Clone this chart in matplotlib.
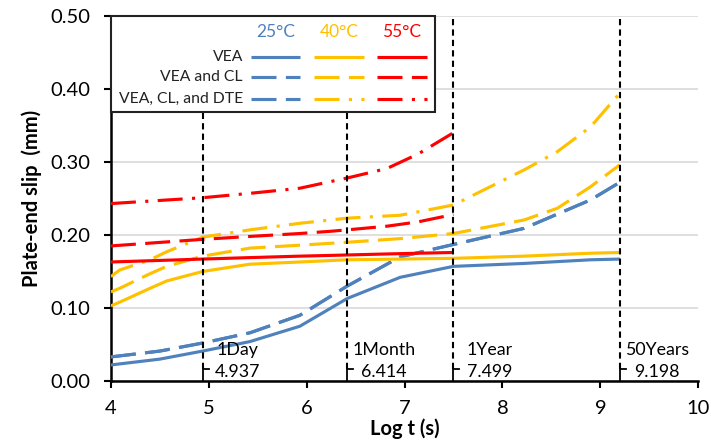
import numpy as np
import matplotlib.pyplot as plt
from matplotlib.patches import Rectangle

plt.rcParams['font.family'] = ['Lato', 'DejaVu Sans']

# log time (s) and slip (mm)
x25 = [4.0, 4.5, 4.937, 5.42, 5.93, 6.414, 6.955, 7.499, 8.22, 8.9, 9.198]
vea25 = [0.022, 0.030, 0.041, 0.054, 0.075, 0.113, 0.142, 0.157, 0.161, 0.166, 0.167]
cl25 = [0.033, 0.041, 0.052, 0.066, 0.090, 0.130, 0.170, 0.187, 0.209, 0.248, 0.272]
dte25 = [0.033, 0.041, 0.052, 0.066, 0.090, 0.130, 0.170, 0.187, 0.209, 0.248, 0.272]

x40 = [4.0, 4.09, 4.4, 4.57, 4.937, 5.42, 5.93, 6.414, 6.955, 7.499, 8.22, 8.56, 8.9, 9.198]
vea40 = [0.103, 0.108, 0.127, 0.137, 0.150, 0.160, 0.163, 0.166, 0.167, 0.168, 0.171, 0.173, 0.175, 0.176]
cl40 = [0.122, 0.127, 0.147, 0.157, 0.171, 0.182, 0.186, 0.190, 0.195, 0.202, 0.2205, 0.2365, 0.266, 0.296]
dte40 = [0.143, 0.152, 0.166, 0.177, 0.197, 0.207, 0.216, 0.223, 0.227, 0.241, 0.289, 0.314, 0.348, 0.394]

x55 = [4.0, 4.937, 5.42, 5.93, 6.24, 6.414, 6.82, 7.14, 7.499]
vea55 = [0.163, 0.167, 0.169, 0.171, 0.172, 0.1726, 0.174, 0.175, 0.176]
cl55 = [0.185, 0.194, 0.198, 0.202, 0.205, 0.207, 0.212, 0.218, 0.228]
dte55 = [0.243, 0.251, 0.257, 0.264, 0.273, 0.278, 0.291, 0.311, 0.340]

marks = [4.937, 6.414, 7.499, 9.198]
mark_names = ['1Day', '1Month', '1Year', '50Years']

temps = ['25°C', '40°C', '55°C']
colors = ['#4F81BD', '#FFC000', '#FF0000']
cases = ['VEA', 'VEA and CL', 'VEA, CL, and DTE']

solid = (0, ())
dash = (0, (8, 3))
dashdot = (0, (8, 3, 1, 3))
styles = {
    '25°C': [solid, dash, dash],
    '40°C': [solid, dash, dashdot],
    '55°C': [solid, dash, dashdot],
}
series = {
    '25°C': (x25, [vea25, cl25, dte25]),
    '40°C': (x40, [vea40, cl40, dte40]),
    '55°C': (x55, [vea55, cl55, dte55]),
}

fig = plt.figure(figsize=(7.11, 4.41), dpi=100)
ax = fig.add_axes([0.156, 0.136, 0.826, 0.828])
px = 6 / (0.826 * 711)  # data units per pixel along x

for t, c in zip(temps, colors):
    xs, ys = series[t]
    for y, ls in zip(ys[::-1], styles[t][::-1]):
        ax.plot(xs, y, color=c, lw=2.25, linestyle=ls, zorder=3)

# time markers with their labels
label_shift = [12, 5, 13, 5]
for m, name, sh in zip(marks, mark_names, label_shift):
    ax.plot([m, m], [0.016, 0.5], color='black', lw=1.5, linestyle=(0, (3, 2)), zorder=4)
    ax.plot([m, m, m + 6 * px], [0, 0.016, 0.016], color='black', lw=1.3, zorder=4)
    ax.text(m + sh * px, 0.002, f'{name}\n{m:.3f}', ha='left', va='bottom',
            fontsize=12.8, multialignment='center', linespacing=1.4, zorder=5)

ax.set_xlim(4, 10)
ax.set_ylim(0, 0.5)
ax.set_xticks(np.arange(4, 11, 1))
ax.set_yticks(np.arange(0, 0.51, 0.1))
ax.yaxis.set_major_formatter(plt.FormatStrFormatter('%.2f'))
ax.tick_params(axis='both', labelsize=14.5, width=1.5, length=5, direction='out')
ax.tick_params(axis='y', pad=10)
ax.tick_params(axis='x', pad=9)
ax.grid(axis='y', color='#D9D9D9', lw=1.2, zorder=0)
ax.set_axisbelow(True)
for s in ['top', 'right']:
    ax.spines[s].set_visible(False)
for s in ['left', 'bottom']:
    ax.spines[s].set_linewidth(1.8)

ax.set_xlabel('Log t (s)', fontsize=14.5, fontweight='bold', labelpad=1)
ax.set_ylabel('Plate-end slip  (mm)', fontsize=14.5, fontweight='bold', labelpad=6)

# legend box: temperatures across, cases down
ax.add_patch(Rectangle((4, 0.3685), 324 * px, 0.5 - 0.3685, facecolor='white',
                       edgecolor='#222222', lw=1.5, zorder=6, clip_on=False))
cols = [(140, 189), (203, 253), (266, 316)]
rows = [(381 - 57) / 730, (381 - 77) / 730, (381 - 99) / 730]
for t, c, (x0, x1) in zip(temps, colors, cols):
    ax.text(4 + (x0 + x1) / 2 * px, (381 - 32) / 730, t, color=c, ha='center',
            va='center', fontsize=12.5, zorder=7)
    for r, ls in zip(rows, styles[t]):
        ax.plot([4 + x0 * px, 4 + x1 * px], [r, r], color=c, lw=2.25, linestyle=ls,
                zorder=7, solid_capstyle='butt', dash_capstyle='butt')
for r, name in zip(rows, cases):
    ax.text(4 + 132 * px, r, name, ha='right', va='center', fontsize=11.3,
            color='#222222', zorder=7)

fig.savefig('out.png', dpi=100)
